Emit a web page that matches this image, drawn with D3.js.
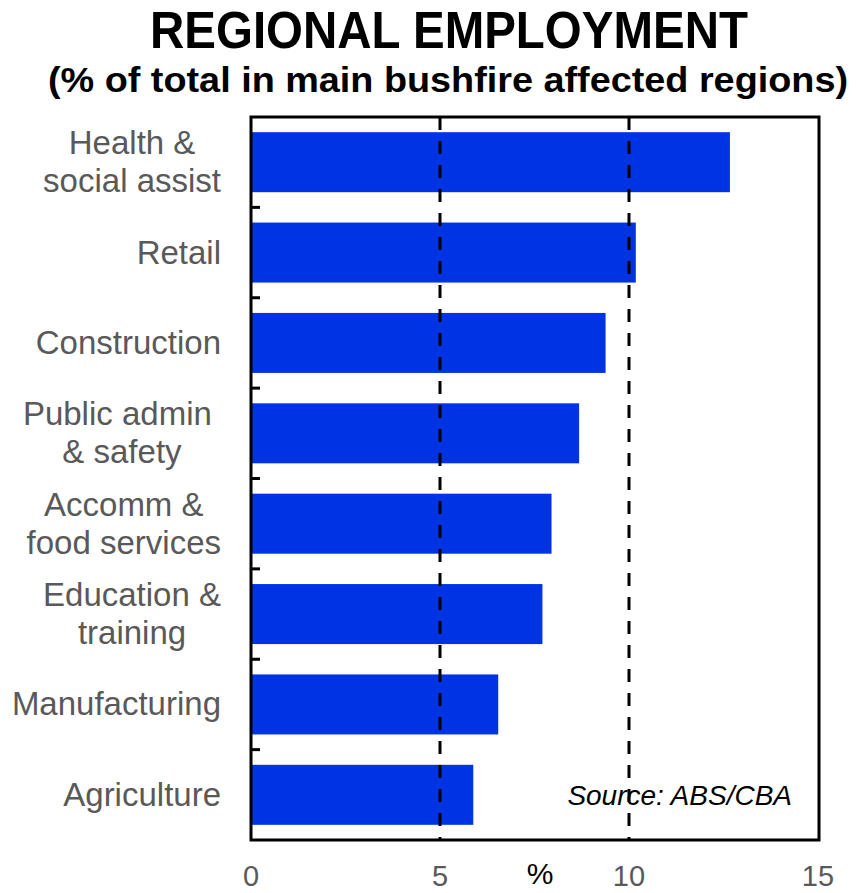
<!DOCTYPE html>
<html><head><meta charset="utf-8">
<script src="https://cdn.jsdelivr.net/npm/d3@7"></script>
<style>body{margin:0;background:#fff}svg{display:block}</style>
</head><body>
<svg id="c" width="856" height="893"></svg>
<script>
const categories = [
  ["Health &", "social assist"],
  ["Retail"],
  ["Construction"],
  ["Public admin ", "& safety"],
  ["Accomm &", "food services"],
  ["Education &", "training"],
  ["Manufacturing"],
  ["Agriculture"]
];
const values = [12.67, 10.18, 9.38, 8.68, 7.95, 7.71, 6.54, 5.88];
const xTicks = [0, 5, 10, 15];
const gridValues = [5, 10];
const titleText = "REGIONAL EMPLOYMENT";
const subtitleText = "(% of total in main bushfire affected regions)";
const sourceText = "Source: ABS/CBA";
const xAxisTitle = "%";

const svg = d3.select("#c");
const m = {left: 251, right: 818, top: 117, bottom: 840};
const font = "Liberation Sans, Arial, sans-serif";

const x = d3.scaleLinear().domain([0, 15]).range([m.left, m.right]);
const ids = categories.map((d, i) => i);
const y = d3.scaleBand().domain(ids).range([m.top, m.bottom]).paddingInner(0.336).paddingOuter(0.168);
const yb = d3.scaleBand().domain(ids).range([m.top, m.bottom]);

// title
svg.append("text").attr("x", 449).attr("y", 48).attr("text-anchor", "middle")
  .attr("font-family", font).attr("font-weight", "bold").attr("font-size", 51)
  .attr("textLength", 598).attr("lengthAdjust", "spacingAndGlyphs").text(titleText);
svg.append("text").attr("x", 448).attr("y", 92).attr("text-anchor", "middle")
  .attr("font-family", font).attr("font-weight", "bold").attr("font-size", 35)
  .attr("textLength", 800).attr("lengthAdjust", "spacingAndGlyphs").text(subtitleText);

// bars
svg.append("g").selectAll("rect").data(values).join("rect")
  .attr("x", x(0)).attr("y", (d, i) => y(i))
  .attr("width", d => x(d) - x(0)).attr("height", y.bandwidth())
  .attr("fill", "#0033e3");

// gridlines
svg.append("g").selectAll("line").data(gridValues).join("line")
  .attr("x1", d => x(d)).attr("x2", d => x(d))
  .attr("y1", m.top).attr("y2", m.bottom)
  .attr("stroke", "#000").attr("stroke-width", 3).attr("stroke-dasharray", "13,11");

// left axis ticks (inward) at band boundaries
svg.append("g").selectAll("line").data(ids.slice(1)).join("line")
  .attr("x1", m.left).attr("x2", m.left + 9)
  .attr("y1", d => yb(d)).attr("y2", d => yb(d))
  .attr("stroke", "#000").attr("stroke-width", 3);

// frame
svg.append("rect").attr("x", m.left).attr("y", m.top)
  .attr("width", m.right - m.left + 1).attr("height", m.bottom - m.top)
  .attr("fill", "none").attr("stroke", "#000").attr("stroke-width", 3);

// category labels
const lh = 38;
const labelRight = 221;
categories.forEach((lines, i) => {
  const cy = y(i) + y.bandwidth() / 2;
  const g = svg.append("g");
  const texts = lines.map((ln, j) => g.append("text")
    .attr("font-family", font).attr("font-size", 33).attr("fill", "#595959")
    .attr("text-anchor", "middle").style("white-space", "pre")
    .attr("y", cy + (j - (lines.length - 1) / 2) * lh + 11)
    .text(ln));
  const w = d3.max(texts, t => t.node().getComputedTextLength());
  texts.forEach(t => t.attr("x", labelRight - w / 2));
});

// x tick labels
svg.append("g").selectAll("text").data(xTicks).join("text")
  .attr("x", d => x(d)).attr("y", 886).attr("text-anchor", "middle")
  .attr("font-family", font).attr("font-size", 29).attr("fill", "#595959")
  .text(d => d);

svg.append("text").attr("x", 540).attr("y", 884).attr("text-anchor", "middle")
  .attr("font-family", font).attr("font-size", 30).attr("fill", "#000").text(xAxisTitle);

svg.append("text").attr("x", 792).attr("y", 805).attr("text-anchor", "end")
  .attr("font-family", font).attr("font-size", 28).attr("font-style", "italic")
  .attr("fill", "#000").text(sourceText);
</script>
</body></html>
